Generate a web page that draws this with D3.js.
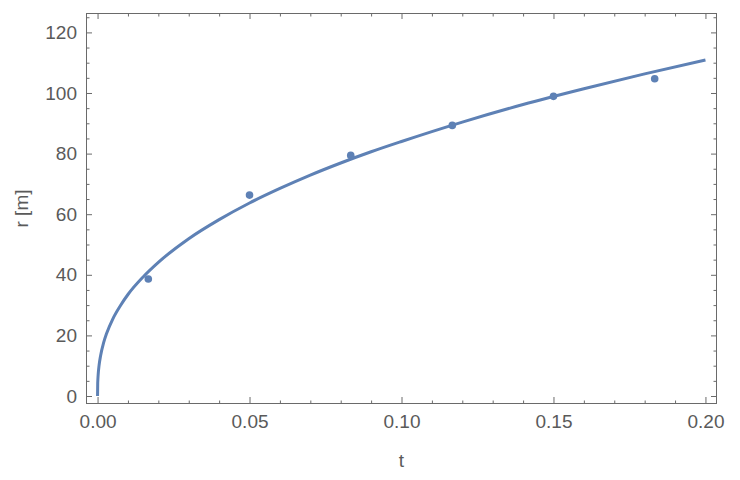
<!DOCTYPE html>
<html>
<head>
<meta charset="utf-8">
<script src="https://cdn.jsdelivr.net/npm/d3@7"></script>
<style>
  html, body { margin: 0; padding: 0; background: #fff; }
  svg { display: block; }
  text { font-family: "Liberation Sans", Arial, sans-serif; }
</style>
</head>
<body>
<svg id="chart" width="740" height="480"></svg>
<script>
// Measured data points (t, r)
const pointT = [0.0167, 0.05, 0.0833, 0.1167, 0.15, 0.1833];
const pointR = [38.6, 66.3, 79.4, 89.3, 98.9, 104.7];

// Fitted curve (t, r)
const curveT = [0, 0.00005, 0.0001, 0.0002, 0.0005, 0.001, 0.002, 0.003, 0.005, 0.0075,
                0.01, 0.015, 0.02, 0.03, 0.04, 0.05, 0.06, 0.07, 0.08, 0.09, 0.10,
                0.12, 0.14, 0.16, 0.18, 0.20];
const curveR = [0, 4.0, 5.3, 7.0, 10.1, 13.3, 17.6, 20.7, 25.4, 29.8,
                33.5, 39.3, 44.1, 51.9, 58.2, 63.7, 68.5, 72.9, 76.9, 80.6, 84.0,
                90.4, 96.2, 101.4, 106.3, 110.9];

// Tick values
const xMajorTicks = [0, 0.05, 0.10, 0.15, 0.20];
const xTickLabels = ["0.00", "0.05", "0.10", "0.15", "0.20"];
const xMinorTicks = [0.01, 0.02, 0.03, 0.04, 0.06, 0.07, 0.08, 0.09, 0.11, 0.12, 0.13, 0.14, 0.16, 0.17, 0.18, 0.19];
const yMajorTicks = [0, 20, 40, 60, 80, 100, 120];
const yTickLabels = ["0", "20", "40", "60", "80", "100", "120"];
const yMinorTicks = [5, 10, 15, 25, 30, 35, 45, 50, 55, 65, 70, 75, 85, 90, 95, 105, 110, 115, 125];

const xLabel = "t";
const yLabel = "r [m]";

const frameColor = "#6a6a6a";
const textColor = "#5a5a5a";
const seriesColor = "#5E81B5";
const fontSize = "19px";

const svg = d3.select("#chart");
const L = 86, R = 717, T = 13, B = 404;

const x = d3.scaleLinear().domain([-0.0038, 0.2038]).range([L, R]);
const y = d3.scaleLinear().domain([-2.64, 126.4]).range([B, T]);

function styleAxis(g) {
  g.select(".domain").remove();
  g.selectAll(".tick line").attr("stroke", frameColor).attr("stroke-width", 1);
  g.selectAll(".tick text").attr("fill", textColor)
    .style("font-family", '"Liberation Sans", Arial, sans-serif')
    .style("font-size", fontSize);
}

// Bottom axis
svg.append("g").attr("transform", `translate(0,${B})`)
  .call(d3.axisBottom(x).tickValues(xMajorTicks).tickSize(-7).tickPadding(11)
    .tickFormat((d, i) => xTickLabels[i]))
  .call(styleAxis);
svg.append("g").attr("transform", `translate(0,${B})`)
  .call(d3.axisBottom(x).tickValues(xMinorTicks).tickSize(-3.5).tickFormat(""))
  .call(styleAxis);
// Top axis
svg.append("g").attr("transform", `translate(0,${T})`)
  .call(d3.axisTop(x).tickValues(xMajorTicks).tickSize(-6).tickFormat(""))
  .call(styleAxis);
svg.append("g").attr("transform", `translate(0,${T})`)
  .call(d3.axisTop(x).tickValues(xMinorTicks).tickSize(-3.5).tickFormat(""))
  .call(styleAxis);
// Left axis
svg.append("g").attr("transform", `translate(${L},0)`)
  .call(d3.axisLeft(y).tickValues(yMajorTicks).tickSize(-6).tickPadding(9)
    .tickFormat((d, i) => yTickLabels[i]))
  .call(styleAxis);
svg.append("g").attr("transform", `translate(${L},0)`)
  .call(d3.axisLeft(y).tickValues(yMinorTicks).tickSize(-3.5).tickFormat(""))
  .call(styleAxis);
// Right axis
svg.append("g").attr("transform", `translate(${R},0)`)
  .call(d3.axisRight(y).tickValues(yMajorTicks).tickSize(-6).tickFormat(""))
  .call(styleAxis);
svg.append("g").attr("transform", `translate(${R},0)`)
  .call(d3.axisRight(y).tickValues(yMinorTicks).tickSize(-3.5).tickFormat(""))
  .call(styleAxis);

// Frame
svg.append("rect")
  .attr("x", L + 0.5).attr("y", T + 0.5)
  .attr("width", R - L - 1).attr("height", B - T - 1)
  .attr("fill", "none").attr("stroke", frameColor).attr("stroke-width", 1);

// Clip
svg.append("clipPath").attr("id", "clip")
  .append("rect").attr("x", L).attr("y", T).attr("width", R - L).attr("height", B - T);

const curveData = curveT.map((t, i) => [t, curveR[i]]);
const line = d3.line().x(d => x(d[0])).y(d => y(d[1])).curve(d3.curveMonotoneX);

svg.append("path")
  .datum(curveData)
  .attr("clip-path", "url(#clip)")
  .attr("d", line)
  .attr("fill", "none")
  .attr("stroke", seriesColor)
  .attr("stroke-width", 3)
  .attr("stroke-linejoin", "round");

const pts = pointT.map((t, i) => [t, pointR[i]]);
svg.append("g").selectAll("circle").data(pts).join("circle")
  .attr("cx", d => x(d[0]))
  .attr("cy", d => y(d[1]))
  .attr("r", 3.8)
  .attr("fill", seriesColor);

// Axis labels
svg.append("text")
  .attr("x", (L + R) / 2).attr("y", 467)
  .attr("text-anchor", "middle")
  .attr("fill", textColor)
  .style("font-size", fontSize)
  .text(xLabel);

svg.append("text")
  .attr("transform", `translate(28,${(T + B) / 2}) rotate(-90)`)
  .attr("text-anchor", "middle")
  .attr("fill", textColor)
  .style("font-size", fontSize)
  .text(yLabel);
</script>
</body>
</html>
